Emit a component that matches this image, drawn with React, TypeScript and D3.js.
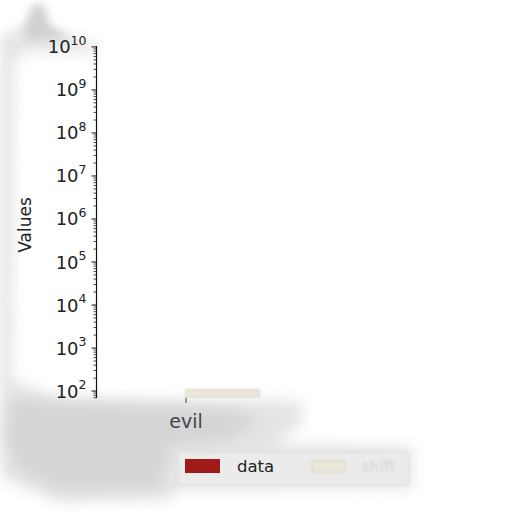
import React from "react";
import * as d3 from "d3";

const categories = ["evil"];
const seriesNames = ["data", "shift"];
const dataValues = [50];
const shiftValues = [108];
const seriesColors = ["#a01a1a", "#ebe7da"];
const yTickExponents = [2, 3, 4, 5, 6, 7, 8, 9, 10];

const W = 512;
const H = 512;

export default function App() {
  const left = 96.5;
  const top = 46;
  const bottom = 398;
  const y = d3.scaleLog().domain([69, 1.05e10]).range([bottom, top]);
  const x = d3.scaleBand().domain(categories).range([96, 276]).padding(0.1);
  const xs = d3.scaleBand().domain(seriesNames).range([0, x.bandwidth()]);
  const values: Record<string, number[]> = { data: dataValues, shift: shiftValues };

  const minor: number[] = [];
  for (let e = 1; e <= 10; e++) {
    for (let m = 2; m <= 9; m++) {
      const v = m * Math.pow(10, e);
      if (v >= 69 && v <= 1.05e10) minor.push(v);
    }
  }

  return (
    <svg width={W} height={H} style={{ position: "absolute", left: 0, top: 0, background: "#fff" }}
      fontFamily="DejaVu Sans, sans-serif">
      <defs>
        <filter id="blur" x="-30%" y="-30%" width="160%" height="160%">
          <feGaussianBlur stdDeviation="7" />
        </filter>
        <filter id="blurS" x="-30%" y="-30%" width="160%" height="160%">
          <feGaussianBlur stdDeviation="4" />
        </filter>
        <filter id="blur2" x="-20%" y="-50%" width="140%" height="200%">
          <feGaussianBlur stdDeviation="1.2" />
        </filter>
        <filter id="blur3" x="-20%" y="-50%" width="140%" height="200%">
          <feGaussianBlur stdDeviation="0.8" />
        </filter>
        <linearGradient id="spine" x1="0" x2="1" y1="0" y2="0">
          <stop offset="0%" stopColor="#111" />
          <stop offset="43%" stopColor="#111" />
          <stop offset="60%" stopColor="#999" />
          <stop offset="100%" stopColor="#e4e4e4" />
        </linearGradient>
        <clipPath id="plot">
          <rect x={left} y={top} width={220} height={bottom - top} />
        </clipPath>
      </defs>

      {/* shadow, light base */}
      <path
        d="M0,36 L20,28 L95,42 L98,52 L24,52 L14,62 L12,380 L60,398 L302,401 L302,424 L274,444 L412,447 L412,488 L180,490 L168,500 L60,502 L20,486 L0,476 Z"
        fill="#e4e4e4"
        filter="url(#blur)"
      />
      {/* top bump */}
      <path d="M22,32 L33,4 L44,5 L50,26 L72,38 L30,40 Z" fill="#d0d0d0" filter="url(#blurS)" />
      {/* darker bottom core */}
      <path
        d="M10,400 L90,404 L230,410 L260,420 L230,440 L170,446 L160,488 L60,490 L18,470 L6,440 Z"
        fill="#d5d5d5"
        filter="url(#blur)"
      />

      {/* legend box */}
      <rect x={178} y={452} width={231} height={33} rx={3} fill="#ebebeb" stroke="#dadada" filter="url(#blur3)" />

      {/* bars */}
      <g clipPath="url(#plot)">
        {seriesNames.map((s, si) =>
          categories.map((c, ci) => {
            const v = values[s][ci];
            const x0 = (x(c) as number) + (xs(s) as number);
            const yTop = y(v) as number;
            const yy = Math.min(yTop, bottom);
            return (
              <rect key={s + c} x={x0} y={yy} width={xs.bandwidth()} height={Math.max(0, bottom - yy)}
                fill={seriesColors[si]} stroke={si === 1 ? "#d4d0c2" : "none"} filter={si === 1 ? "url(#blur2)" : undefined} />
            );
          })
        )}
      </g>

      {/* y axis */}
      <line x1={left} x2={left} y1={top} y2={bottom} stroke="#111" strokeWidth={1.2} />
      {minor.map((v, i) => (
        <line key={"m" + i} x1={left - 3} x2={left} y1={y(v)} y2={y(v)} stroke="#222" strokeWidth={0.8} />
      ))}
      {yTickExponents.map((e) => (
        <g key={e}>
          <line x1={left - 5} x2={left} y1={y(Math.pow(10, e))} y2={y(Math.pow(10, e))} stroke="#111" strokeWidth={1} />
          <text x={left - 10} y={y(Math.pow(10, e)) + 6.5} textAnchor="end" fontSize={18} fill="#222">
            10
            <tspan fontSize={12.5} dy={-8.5}>{String(e)}</tspan>
          </text>
        </g>
      ))}
      <text transform={`translate(31,225) rotate(-90)`} textAnchor="middle" fontSize={17} fill="#222">Values</text>

      {/* x axis */}
      <line x1={left - 0.5} x2={300} y1={bottom} y2={bottom} stroke="url(#spine)" strokeWidth={1.3} />
      {categories.map((c) => {
        const cx = (x(c) as number) + x.bandwidth() / 2;
        return (
          <g key={c}>
            <line x1={cx} x2={cx} y1={bottom} y2={bottom + 5} stroke="#444" />
            <text x={cx} y={428} textAnchor="middle" fontSize={19} fill="#444">{c}</text>
          </g>
        );
      })}

      {/* legend */}
      <rect x={185} y={459} width={35} height={14} fill={seriesColors[0]} />
      <text x={237} y={472} fontSize={16.5} fill="#222">{seriesNames[0]}</text>
      <rect x={312} y={461} width={33} height={11} fill={seriesColors[1]} stroke="#d6d2c4" filter="url(#blur2)" />
      <text x={361} y={472} fontSize={16} fill="#d2d2d2" filter="url(#blur3)">{seriesNames[1]}</text>
    </svg>
  );
}
